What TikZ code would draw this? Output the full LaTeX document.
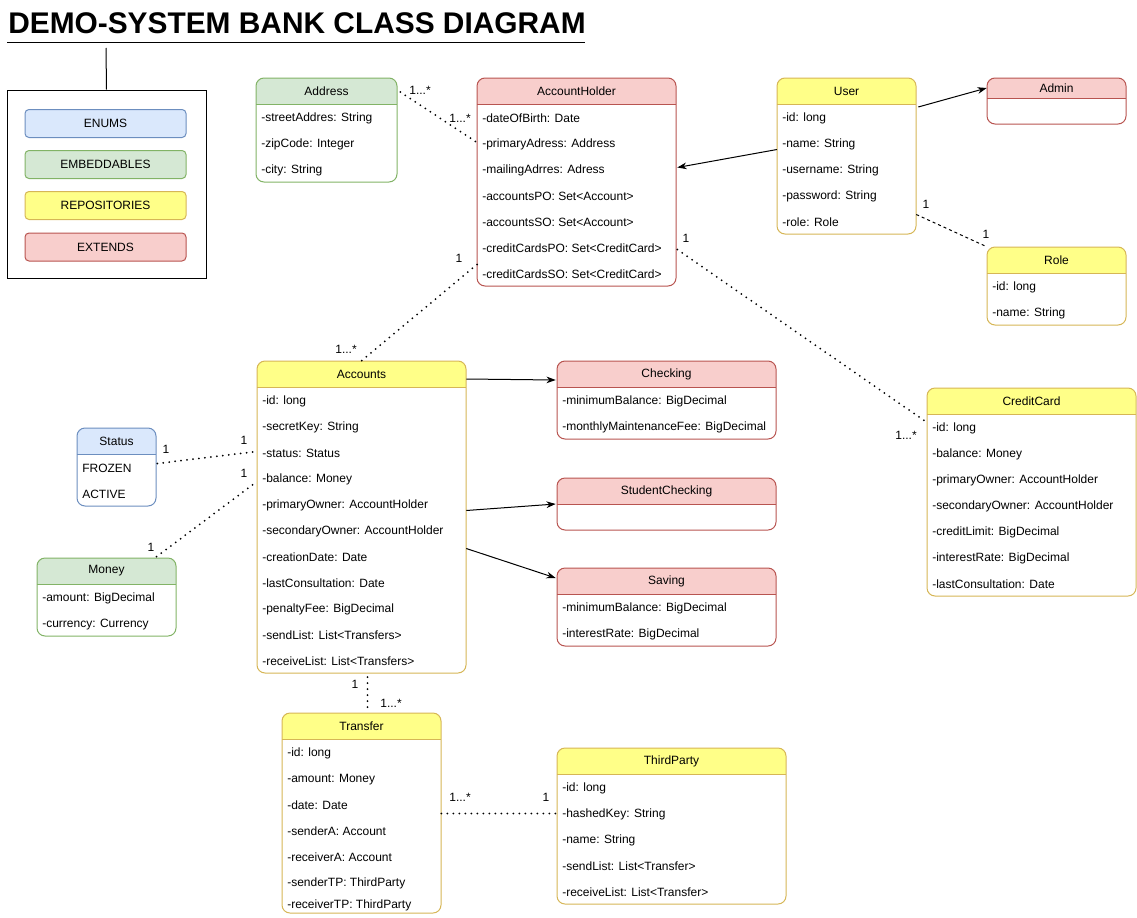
\documentclass[tikz,border=0pt]{standalone}
\usepackage{fontspec}
\setmainfont{Liberation Sans}
\usetikzlibrary{arrows.meta,calc}

\definecolor{yelfill}{HTML}{FFFF88}
\definecolor{yeldraw}{HTML}{D6B656}
\definecolor{redfill}{HTML}{F8CECC}
\definecolor{reddraw}{HTML}{B85450}
\definecolor{grnfill}{HTML}{D5E8D4}
\definecolor{grndraw}{HTML}{82B366}
\definecolor{blufill}{HTML}{DAE8FC}
\definecolor{bludraw}{HTML}{6C8EBF}

\tikzset{
  clshead/.style={inner sep=0pt, font=\fontsize{9}{11}\selectfont},
  attr/.style={anchor=west, inner sep=0pt, inner xsep=3.75pt, font=\fontsize{9}{11}\selectfont},
  mult/.style={inner sep=0pt, font=\fontsize{9}{11}\selectfont},
  tag/.style={rounded corners=3pt, line width=0.75pt, minimum width={161*0.75pt},
    minimum height={28*0.75pt}, font=\fontsize{9}{11}\selectfont},
  assoc/.style={line width=1.5pt, dash pattern=on 0pt off 4.5pt, line cap=round},
  dashlink/.style={line width=0.75pt, dash pattern=on 2.25pt off 2.25pt},
  inherit/.style={line width=0.75pt, -{Stealth[length=7pt,width=5pt]}}
}

% name, colour, x1, y1, x2, y2, header height, title, rows
\newcommand{\classbox}[9]{%
  \begin{scope}
    \clip[rounded corners=6pt] (#3,#4) rectangle (#5,#6);
    \fill[white] (#3,#4) rectangle (#5,#6);
    \fill[#2fill] (#3,#4) rectangle (#5,#4+#7);
  \end{scope}
  \draw[#2draw, line width=0.75pt] (#3,#4+#7) -- (#5,#4+#7);
  \draw[#2draw, line width=0.75pt, rounded corners=6pt] (#3,#4) rectangle (#5,#6);
  \node[clshead, minimum width={(#5-#3)*0.75pt}, minimum height={#7*0.75pt}]
    (#1) at ({(#3+#5)/2},{#4+#7/2}) {#8};
  \if\relax\detokenize{#9}\relax\else
    \foreach \rowtxt [count=\k] in {#9} {
      \node[attr] (#1-\k) at (#3,{#4+#7+26*\k-11.5}) {\rowtxt};
    }
  \fi
}

\begin{document}
\begin{tikzpicture}[x=0.75pt,y=-0.75pt]
  \useasboundingbox (0,0) rectangle (1137,917);

  % heading and legend
  \node[font=\bfseries\fontsize{22.4}{26}\selectfont, anchor=base west, inner sep=0pt]
    (heading) at (8,33.5) {DEMO-SYSTEM BANK CLASS DIAGRAM};
  \coordinate (ul-a) at (7,43);
  \coordinate (ul-b) at (585,43);
  \draw[line width=0.75pt] (ul-a) -- (ul-b);
  \node[draw, line width=0.75pt, inner sep=0pt, minimum width={199*0.75pt},
    minimum height={188*0.75pt}] (legend) at (106.5,184) {};
  \coordinate (tail) at (106,48);
  \draw[line width=0.75pt] (tail) -- (legend.north);
  \node[tag, fill=blufill, draw=bludraw] (enums) at (105.5,123.5) {ENUMS};
  \node[tag, fill=grnfill, draw=grndraw] (embed) at (105.5,164.5) {EMBEDDABLES};
  \node[tag, fill=yelfill, draw=yeldraw] (repos) at (105.5,205.5) {REPOSITORIES};
  \node[tag, fill=redfill, draw=reddraw] (extds) at (105.5,247) {EXTENDS};

  % classes
  \classbox{adr}{grn}{256}{78}{397}{182}{26}{Address}{-streetAddres: String,-zipCode: Integer,-city: String}
  \classbox{ah}{red}{477}{78}{676}{286}{26}{AccountHolder}{-dateOfBirth: Date,-primaryAdress: Address,-mailingAdrres: Adress,-accountsPO: Set<Account>,-accountsSO: Set<Account>,-creditCardsPO: Set<CreditCard>,-creditCardsSO: Set<CreditCard>}
  \classbox{usr}{yel}{777}{78}{916}{234}{26}{User}{-id: long,-name: String,-username: String,-password: String,-role: Role}
  \classbox{adm}{red}{987}{78}{1126}{124}{20}{Admin}{}
  \classbox{rol}{yel}{987}{247}{1126}{325}{26}{Role}{-id: long,-name: String}
  \classbox{acc}{yel}{257}{361}{466}{673}{26}{Accounts}{-id: long,-secretKey: String,-status: Status,-balance: Money,-primaryOwner: AccountHolder,-secondaryOwner: AccountHolder,-creationDate: Date,-lastConsultation: Date,-penaltyFee: BigDecimal,-sendList: List<Transfers>,-receiveList: List<Transfers>}
  \classbox{chk}{red}{557}{361}{776}{439}{26}{Checking}{-minimumBalance: BigDecimal,-monthlyMaintenanceFee: BigDecimal}
  \classbox{stc}{red}{557}{478}{776}{530}{26}{StudentChecking}{}
  \classbox{sav}{red}{557}{568}{776}{646}{26}{Saving}{-minimumBalance: BigDecimal,-interestRate: BigDecimal}
  \classbox{cc}{yel}{927}{388}{1136}{596}{26}{CreditCard}{-id: long,-balance: Money,-primaryOwner: AccountHolder,-secondaryOwner: AccountHolder,-creditLimit: BigDecimal,-interestRate: BigDecimal,-lastConsultation: Date}
  \classbox{sts}{blu}{77}{428}{156}{506}{26}{Status}{FROZEN,ACTIVE}
  \classbox{mon}{grn}{37}{558}{176}{636}{26}{Money}{-amount: BigDecimal,-currency: Currency}
  \classbox{trf}{yel}{282}{713}{441}{913}{26}{Transfer}{-id: long,-amount: Money,-date: Date,-senderA: Account,-receiverA: Account,-senderTP: ThirdParty}
  \node[attr] (trf-7) at (282,905) {-receiverTP: ThirdParty};
  \classbox{tp}{yel}{557}{748}{786}{904}{26}{ThirdParty}{-id: long,-hashedKey: String,-name: String,-sendList: List<Transfer>,-receiveList: List<Transfer>}

  % inheritance
  \draw[inherit] ($(usr-2.west)+(0,5)$) -- ($(ah.east |- ah-3)+(1,-3)$);
  \draw[inherit] ($(usr.east)+(2,16)$) -- (adm.west);
  \draw[inherit] ($(acc.east)+(0,5)$) -- ($(chk.west)+(-1,6)$);
  \draw[inherit] ($(acc.east |- acc-5)+(0,5)$) -- ($(stc.west)+(-1,13)$);
  \draw[inherit] ($(acc.east |- acc-6)+(0,17)$) -- ($(sav.west)+(-1,-3)$);

  % associations
  \draw[assoc] ($(adr.east)+(3,1)$) -- ($(ah-2.west)+(0,-2)$);
  \draw[dashlink] ($(usr.east |- usr-5)+(0,-8)$) -- (rol.north west);
  \draw[assoc] ($(ah-7.west)+(0,-10)$) -- (acc.north);
  \draw[assoc] ($(ah.east |- ah-6)+(1,1)$) -- ($(cc-1.west)+(0,-6)$);
  \draw[assoc] ($(sts.east |- sts-1)+(1,-5)$) -- ($(acc-3.west)+(0,-2)$);
  \draw[assoc] ($(mon.north)+(50,-1)$) -- ($(acc-4.west)+(0,2)$);
  \draw[assoc] ($(acc.north |- 0,673)+(6,4)$) -- ($(trf.north)+(6,0)$);
  \draw[assoc] ($(trf.east |- tp-2)+(0,-1)$) -- ($(tp-2.west)+(0,-1)$);

  % multiplicities
  \node[mult] (m-adr) at (420,90) {1...*};
  \node[mult] (m-ah1) at (460,118) {1...*};
  \node[mult] (m-usr) at (926,204) {1};
  \node[mult] (m-rol) at (986,234) {1};
  \node[mult] (m-ah2) at (459,258) {1};
  \node[mult] (m-acc1) at (346,349) {1...*};
  \node[mult] (m-ah3) at (686,238) {1};
  \node[mult] (m-cc) at (906,435) {1...*};
  \node[mult] (m-sts) at (166,449) {1};
  \node[mult] (m-acc2) at (244,440) {1};
  \node[mult] (m-acc3) at (244,473) {1};
  \node[mult] (m-mon) at (151,547) {1};
  \node[mult] (m-acc4) at (355,684) {1};
  \node[mult] (m-trf1) at (391,703) {1...*};
  \node[mult] (m-trf2) at (460,797) {1...*};
  \node[mult] (m-tp) at (546,797) {1};
\end{tikzpicture}
\end{document}
